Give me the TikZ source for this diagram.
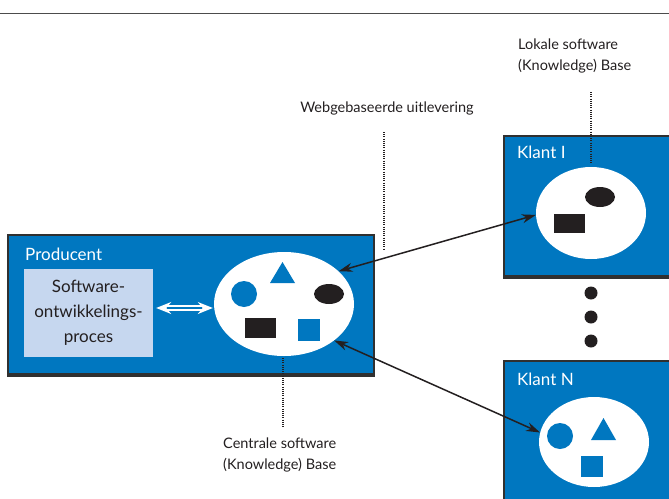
\documentclass[tikz,border=0pt]{standalone}
\usepackage{fontspec}
\setmainfont{Lato}
\usetikzlibrary{shapes.geometric,arrows.meta}
\definecolor{pblue}{HTML}{0077C0}
\definecolor{lblue}{HTML}{C6D7EF}
\definecolor{edgec}{HTML}{303030}
\definecolor{txt}{HTML}{231F20}
\tikzset{
  bluebox/.style={draw=edgec, line width=1.5pt, fill=pblue, rectangle, inner sep=0pt, anchor=north west},
  kbell/.style={ellipse, fill=white, draw=none, inner sep=0pt},
  boxlabel/.style={text=white, font=\fontsize{17}{20}\selectfont, anchor=west, inner sep=0pt},
  note/.style={text=txt, font=\fontsize{14.5}{21.5}\selectfont, align=left, anchor=west, inner sep=0pt},
  dotline/.style={draw=txt, dash pattern=on 1pt off 1.2pt, line width=1.2pt},
  link/.style={draw=txt, line width=1.5pt, {Stealth[length=14pt,width=9pt]}-{Stealth[length=14pt,width=9pt]}},
}
\begin{document}
\begin{tikzpicture}[x=1pt,y=-1pt]
\useasboundingbox (0,0) rectangle (669,498);
\clip (0,0) rectangle (669,498);
\draw[gray!60!black, line width=0.8pt] (0,13) -- (669,13);

% boxes
\node[bluebox, minimum width=366, minimum height=139] (prod) at (7,234) {};
\draw[edgec, line width=3pt] ([yshift=-1pt]prod.south west) -- ([yshift=-1pt]prod.south east);
\node[bluebox, minimum width=180, minimum height=140] (k1box) at (503,135) {};
\draw[edgec, line width=3pt] ([yshift=-1pt]k1box.south west) -- ([yshift=-1pt]k1box.south east);
\node[bluebox, minimum width=180, minimum height=160] (knbox) at (503,360) {};

\node[boxlabel] (prodl) at (25,254) {Producent};
\node[boxlabel] (k1l) at (517,152) {Klant I};
\node[boxlabel] (knl) at (517,379) {Klant N};

% software process box
\node[fill=lblue, minimum width=129, minimum height=88, inner sep=0pt, align=center,
      text=txt, font=\fontsize{17}{25}\selectfont] (sw) at (88.5,313) {Software-\\ontwikkelings-\\proces};

% ellipses
\node[kbell, minimum width=140, minimum height=104] (kb) at (284,304) {};
\node[kbell, minimum width=110, minimum height=92] (k1) at (591,213) {};
\node[kbell, minimum width=110, minimum height=90] (kn) at (594,442) {};

% central shapes
\fill[pblue] (244,294) circle[radius=13];
\fill[pblue] (270,283) -- (282.5,262) -- (295,283) -- cycle;
\fill[txt] (329,294) ellipse[x radius=15, y radius=10];
\fill[txt] (245,318) rectangle (276,338);
\fill[pblue] (298,319) rectangle (320,341);
% klant I shapes
\fill[txt] (600,197) ellipse[x radius=15, y radius=10];
\fill[txt] (554,214) rectangle (585,233);
% klant N shapes
\fill[pblue] (560,436) circle[radius=13];
\fill[pblue] (591,440) -- (603.5,418) -- (616,440) -- cycle;
\fill[pblue] (581,456) rectangle (603,477);

% dots
\fill[txt] (591,293) circle[radius=6.5];
\fill[txt] (591,317) circle[radius=6.5];
\fill[txt] (591,341) circle[radius=6.5];

% double white arrow
\draw[white, line width=1.5pt, double=pblue, double distance=2.5pt,
      {Stealth[length=15pt,width=12pt,fill=white]}-{Stealth[length=15pt,width=12pt,fill=white]},
      shorten <=3pt, shorten >=1pt] ([yshift=5pt]sw.east) -- ([yshift=-4pt]kb.west);

% links
\draw[link] (kb.31) -- (k1.182);
\draw[link] (kb.-36) -- (kn.170);

% notes
\node[note, anchor=center] (web) at (387,108) {Webgebaseerde uitlevering};
\node[note] (lok) at (518,56) {Lokale software\\(Knowledge) Base};
\node[note] (cen) at (223,455) {Centrale software\\(Knowledge) Base};

\coordinate (w1) at (384,132);
\coordinate (w2) at (384,250);
\draw[dotline] (w1) -- (w2);
\coordinate (l1) at (591,92);
\coordinate (l2) at (591,164);
\draw[dotline] (l1) -- (l2);
\coordinate (c1) at (283,358);
\coordinate (c2) at (283,427);
\draw[dotline] (c1) -- (c2);
\end{tikzpicture}
\end{document}
